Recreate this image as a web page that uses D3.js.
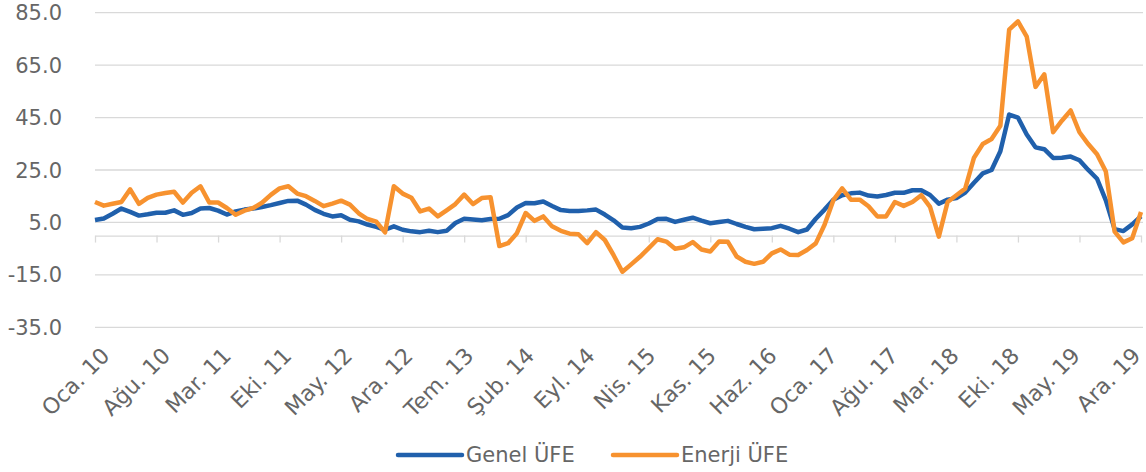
<!DOCTYPE html>
<html>
<head>
<meta charset="utf-8">
<script src="https://cdn.jsdelivr.net/npm/d3@7"></script>
<style>
  body { margin: 0; background: #fff; }
  text { font-family: "DejaVu Sans", sans-serif; fill: #666666; }
</style>
</head>
<body>
<div id="chart"></div>
<script>
// Month names (Turkish) and years used to build the category axis
const monthNames = ["Oca", "Şub", "Mar", "Nis", "May", "Haz", "Tem", "Ağu", "Eyl", "Eki", "Kas", "Ara"];
const years = ["10", "11", "12", "13", "14", "15", "16", "17", "18", "19"];
const months = years.flatMap(yy => monthNames.map(m => `${m}. ${yy}`));

// Y axis tick values
const yTickValues = [-35, -15, 5, 25, 45, 65, 85];

// Genel ÜFE (annual %)
const genel = [
    5.9, 6.5, 8.3, 10.3, 9.0, 7.6, 8.1, 8.7, 8.7, 9.6, 7.9, 8.6,
    10.3, 10.5, 9.5, 8.0, 9.2, 9.9, 10.3, 10.9, 11.6, 12.4, 13.2, 13.3,
    11.8, 9.8, 8.3, 7.3, 7.7, 6.0, 5.4, 4.2, 3.3, 2.2, 3.5, 2.2,
    1.6, 1.3, 1.8, 1.3, 1.8, 4.8, 6.4, 6.1, 5.8, 6.3, 6.4, 7.8,
    10.7, 12.4, 12.3, 13.0, 11.3, 9.7, 9.4, 9.4, 9.6, 9.9, 8.0, 5.8,
    3.1, 2.8, 3.3, 4.6, 6.3, 6.4, 5.2, 6.0, 6.8, 5.7, 4.7, 5.2,
    5.6, 4.4, 3.3, 2.4, 2.6, 2.8, 3.7, 2.6, 1.3, 2.3, 6.4, 9.9,
    13.69, 15.36, 16.09, 16.37, 15.26, 14.87, 15.45, 16.34, 16.28, 17.28, 17.30, 15.47,
    12.14, 13.71, 14.28, 16.37, 20.16, 23.71, 25.00, 32.13, 46.15, 45.01, 38.54, 33.64,
    32.93, 29.59, 29.64, 30.12, 28.71, 25.04, 21.66, 13.45, 2.45, 1.70, 4.26, 7.36
];

// Enerji ÜFE (annual %)
const enerji = [
    12.8, 11.4, 12.1, 12.8, 17.6, 12.1, 14.4, 15.6, 16.2, 16.7, 12.6, 16.3,
    18.8, 12.6, 12.6, 10.5, 7.9, 9.5, 10.5, 12.5, 15.5, 18.0, 18.8, 16.0,
    15.0, 13.2, 11.2, 12.2, 13.3, 11.8, 8.5, 6.3, 5.3, 1.2, 18.8, 16.0,
    14.4, 9.2, 10.3, 7.3, 9.6, 12.0, 15.6, 12.0, 14.3, 14.6, -4.0, -2.9,
    0.9, 8.6, 5.6, 7.3, 3.5, 1.8, 0.7, 0.5, -2.9, 1.3, -1.7, -7.5,
    -13.8, -11.0, -8.1, -4.8, -1.4, -2.3, -5.0, -4.5, -2.5, -5.3, -6.1, -2.3,
    -2.4, -8.0, -10.0, -10.8, -10.0, -6.8, -5.3, -7.3, -7.4, -5.5, -3.0, 4.1,
    13.5, 18.0, 13.7, 13.7, 11.2, 7.3, 7.3, 12.8, 11.3, 12.8, 15.4, 10.9,
    -0.4, 12.8, 15.4, 17.9, 29.7, 34.9, 36.8, 41.9, 78.5, 81.7, 75.9, 56.7,
    61.5, 39.4, 43.8, 47.7, 39.4, 34.9, 31.0, 24.4, 1.5, -2.6, -1.0, 9.0
];

const series = [
    { name: "Genel ÜFE", values: genel, colour: "#2060ac" },
    { name: "Enerji ÜFE", values: enerji, colour: "#f7922f" }
];

// every 7th month gets a tick and a label
const tickCats = months.filter((m, i) => i % 7 === 0);

const width = 1146, height = 472;
const svg = d3.select("#chart").append("svg")
    .attr("width", width)
    .attr("height", height);

const x = d3.scalePoint().domain(months).range([95, 1141]);
const y = d3.scaleLinear().domain([-35, 85]).range([327.3, 12.7]);

// plain hyphen for negatives, one decimal
const fmt = d3.formatLocale({ decimal: ".", thousands: ",", grouping: [3], currency: ["", ""], minus: "-" }).format(".1f");

// Gridlines
svg.append("g")
    .selectAll("line")
    .data(yTickValues)
    .enter()
    .append("line")
    .attr("x1", 95)
    .attr("x2", 1143)
    .attr("y1", d => y(d))
    .attr("y2", d => y(d))
    .attr("stroke", "#d9d9d9")
    .attr("stroke-width", 1.3);

// Y labels
svg.append("g")
    .selectAll("text")
    .data(yTickValues)
    .enter()
    .append("text")
    .attr("x", 62)
    .attr("y", d => y(d))
    .attr("dy", "0.36em")
    .attr("text-anchor", "end")
    .style("font-size", "21px")
    .text(d => fmt(d));

// X axis at zero with tick marks
const xAxis = svg.append("g")
    .attr("transform", `translate(0, ${y(0)})`)
    .call(d3.axisBottom(x).tickValues(tickCats).tickSize(7).tickSizeOuter(0).tickFormat(""));
xAxis.select(".domain").attr("stroke", "#d9d9d9").attr("stroke-width", 1.3);
xAxis.selectAll(".tick line").attr("stroke", "#d9d9d9").attr("stroke-width", 1.3);

// Rotated category labels under the plot
const labelX = d3.scalePoint().domain(tickCats).range([111, 1142]);
svg.append("g")
    .selectAll("text")
    .data(tickCats)
    .enter()
    .append("text")
    .attr("transform", d => `translate(${labelX(d)}, 357) rotate(-45)`)
    .attr("text-anchor", "end")
    .style("font-size", "22px")
    .text(d => d);

// Lines
const line = d3.line()
    .x((d, i) => x(months[i]))
    .y(d => y(d));

svg.append("g")
    .selectAll("path")
    .data(series)
    .enter()
    .append("path")
    .attr("d", d => line(d.values))
    .attr("fill", "none")
    .attr("stroke", d => d.colour)
    .attr("stroke-width", 4.5)
    .attr("stroke-linejoin", "round");

// Legend
const legend = svg.append("g");
const legendX = [398, 613];
series.forEach((s, i) => {
    legend.append("line")
        .attr("x1", legendX[i])
        .attr("x2", legendX[i] + 64)
        .attr("y1", 455)
        .attr("y2", 455)
        .attr("stroke", s.colour)
        .attr("stroke-width", 4.5)
        .attr("stroke-linecap", "round");
    legend.append("text")
        .attr("x", legendX[i] + 68)
        .attr("y", 462)
        .style("font-size", "21px")
        .text(s.name);
});
</script>
</body>
</html>
